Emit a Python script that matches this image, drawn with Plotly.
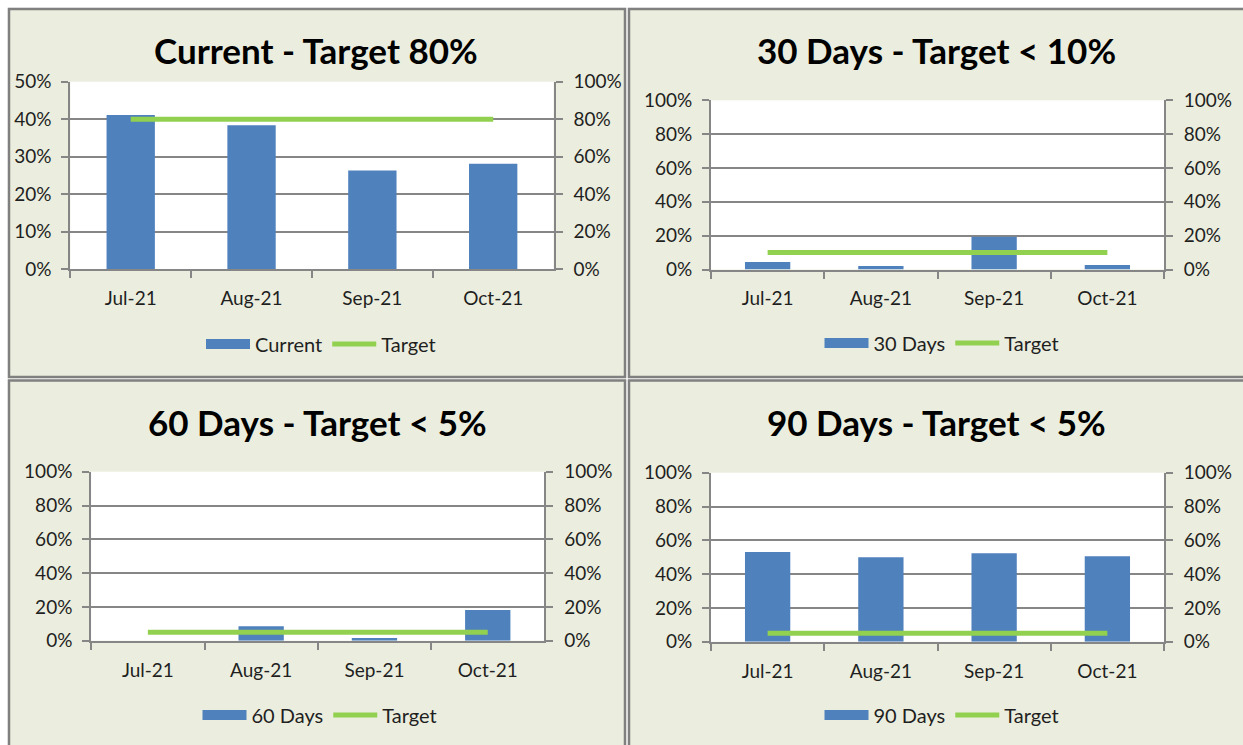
import plotly.graph_objects as go

# ---------------- data ----------------
MONTHS = ["Jul-21", "Aug-21", "Sep-21", "Oct-21"]

CURRENT = [0.411, 0.384, 0.263, 0.281]
DAYS_30 = [0.045, 0.021, 0.193, 0.027]
DAYS_60 = [0.0, 0.085, 0.016, 0.182]
DAYS_90 = [0.531, 0.499, 0.523, 0.505]

TARGET_CURRENT = [0.80, 0.80, 0.80, 0.80]
TARGET_30 = [0.10, 0.10, 0.10, 0.10]
TARGET_60 = [0.05, 0.05, 0.05, 0.05]
TARGET_90 = [0.05, 0.05, 0.05, 0.05]

SERIES_NAMES = ["Current", "30 Days", "60 Days", "90 Days"]
TARGET_NAME = "Target"
TITLES = ["Current - Target 80%", "30 Days - Target < 10%",
          "60 Days - Target < 5%", "90 Days - Target < 5%"]
LEFT_MAX = [0.5, 1.0, 1.0, 1.0]
LEFT_DTICK = [0.1, 0.2, 0.2, 0.2]
RIGHT_MAX = [1.0, 1.0, 1.0, 1.0]
RIGHT_DTICK = [0.2, 0.2, 0.2, 0.2]

BARS = [CURRENT, DAYS_30, DAYS_60, DAYS_90]
TARGETS = [TARGET_CURRENT, TARGET_30, TARGET_60, TARGET_90]

# ---------------- styling / layout ----------------
W, H = 1243, 745
BG = "#EBEEDE"
BLUE = "#4F81BD"
GREEN = "#92D050"
GRAY = "#868686"
BORDER = "#808080"
TXT = "#1F1F1F"
FONT = "Lato, Carlito, 'Liberation Sans', sans-serif"

# plot areas in pixels: (left, right, top, bottom), title centre, legend centre
GEOM = [
    dict(plot=(70.3, 553.6, 81.7, 269.3), title=(316, 50), legend=(321, 344)),
    dict(plot=(711.0, 1164.0, 100.3, 269.5), title=(937, 50), legend=(942, 343)),
    dict(plot=(91.2, 544.4, 471.7, 640.7), title=(317, 422), legend=(320, 715)),
    dict(plot=(711.0, 1164.0, 472.7, 641.7), title=(937, 422), legend=(942, 715)),
]


def px_x(v):
    return v / W


def px_y(v):
    return 1 - v / H


fig = go.Figure()
layout = dict(
    width=W, height=H, autosize=False,
    margin=dict(l=0, r=0, t=0, b=0, pad=0, autoexpand=False),
    paper_bgcolor=BG, plot_bgcolor="white",
    font=dict(family=FONT, size=19, color=TXT),
    showlegend=True,
)

annotations = []
for i in range(4):
    n = i + 1
    xa = "x" if n == 1 else f"x{n}"
    ya = "y" if n == 1 else f"y{n}"
    yr = f"y{n + 4}"
    leg = "legend" if n == 1 else f"legend{n}"
    g = GEOM[i]
    l, r, t, b = g["plot"]

    fig.add_trace(go.Bar(
        x=MONTHS, y=BARS[i], xaxis=xa, yaxis=ya, name=SERIES_NAMES[i],
        marker=dict(color=BLUE, line=dict(width=0)), width=0.4,
        showlegend=False, hoverinfo="x+y",
    ))
    # legend-only entries (wide swatches like the original)
    fig.add_trace(go.Scatter(
        x=[None], y=[None], xaxis=xa, yaxis=ya, mode="lines",
        line=dict(color=BLUE, width=12), name=SERIES_NAMES[i], legend=leg,
    ))
    fig.add_trace(go.Scatter(
        x=MONTHS, y=TARGETS[i], xaxis=xa, yaxis=yr, mode="lines",
        line=dict(color=GREEN, width=5), name=TARGET_NAME, legend=leg,
        showlegend=False,
    ))
    fig.add_trace(go.Scatter(
        x=[None], y=[None], xaxis=xa, yaxis=yr, mode="lines",
        line=dict(color=GREEN, width=5), name=TARGET_NAME, legend=leg,
    ))

    xkey = "xaxis" if n == 1 else f"xaxis{n}"
    ykey = "yaxis" if n == 1 else f"yaxis{n}"
    layout[xkey] = dict(
        domain=[px_x(l), px_x(r)], anchor=ya, type="category",
        categoryorder="array", categoryarray=MONTHS, range=[-0.5, 3.5],
        showline=True, linecolor=GRAY, linewidth=2, mirror=False,
        ticks="outside", tickson="boundaries", ticklen=7, tickwidth=2,
        tickcolor=GRAY, showgrid=False, zeroline=False, automargin=False,
        tickfont=dict(size=19, color=TXT), ticklabelstandoff=11,
        fixedrange=True,
    )
    layout[ykey] = dict(
        domain=[px_y(b), px_y(t)], anchor=xa, range=[0, LEFT_MAX[i]],
        dtick=LEFT_DTICK[i], tick0=0, tickformat=".0%",
        showline=True, linecolor=GRAY, linewidth=2, automargin=False,
        ticks="outside", ticklen=7, tickwidth=2, tickcolor=GRAY,
        showgrid=True, gridcolor=GRAY, gridwidth=2, zeroline=False,
        tickfont=dict(size=19, color=TXT), ticklabelstandoff=6,
        fixedrange=True,
    )
    layout[f"yaxis{n + 4}"] = dict(
        domain=[px_y(b), px_y(t)], anchor=xa, overlaying=ya, side="right",
        range=[0, RIGHT_MAX[i]], dtick=RIGHT_DTICK[i], tick0=0,
        tickformat=".0%", showline=True, linecolor=GRAY, linewidth=2,
        ticks="outside", ticklen=7, tickwidth=2, tickcolor=GRAY,
        showgrid=False, zeroline=False, automargin=False,
        tickfont=dict(size=19, color=TXT), ticklabelstandoff=7,
        fixedrange=True,
    )
    layout[leg] = dict(
        orientation="h", x=px_x(g["legend"][0]), y=px_y(g["legend"][1]),
        xanchor="center", yanchor="middle", bgcolor="rgba(0,0,0,0)",
        font=dict(size=20, color=TXT), itemwidth=44, tracegroupgap=0,
        itemclick=False, itemdoubleclick=False,
    )
    annotations.append(dict(
        text=f"<b>{TITLES[i]}</b>", x=px_x(g["title"][0]), y=px_y(g["title"][1]),
        xref="paper", yref="paper", xanchor="center", yanchor="middle",
        showarrow=False, font=dict(family=FONT, size=35, color="black"),
    ))

shapes = []


def rect(x0, y0, x1, y1, **kw):
    d = dict(type="rect", xref="paper", yref="paper",
             x0=px_x(x0), x1=px_x(x1), y0=px_y(y1), y1=px_y(y0), layer="below")
    d.update(kw)
    return d


# white gutters
shapes.append(rect(-5, -5, 7.8, H + 5, fillcolor="white", line=dict(width=0)))
shapes.append(rect(-5, -5, W + 5, 7.8, fillcolor="white", line=dict(width=0)))
shapes.append(rect(626.2, -5, 627.9, H + 5, fillcolor="white", line=dict(width=0)))
shapes.append(rect(-5, 378.2, W + 5, 379.4, fillcolor="white", line=dict(width=0)))
# panel borders
for (x0, y0, x1, y1) in [(9, 9, 625, 377), (629, 9, W + 20, 377),
                         (9, 380.6, 625, H + 20), (629, 380.6, W + 20, H + 20)]:
    shapes.append(rect(x0, y0, x1, y1, line=dict(color=BORDER, width=2.5),
                       fillcolor="rgba(0,0,0,0)"))

layout["shapes"] = shapes
layout["annotations"] = annotations
fig.update_layout(**layout)

fig.write_html("out.html", config={"displayModeBar": False},
               post_script="document.body.style.margin='0';")
